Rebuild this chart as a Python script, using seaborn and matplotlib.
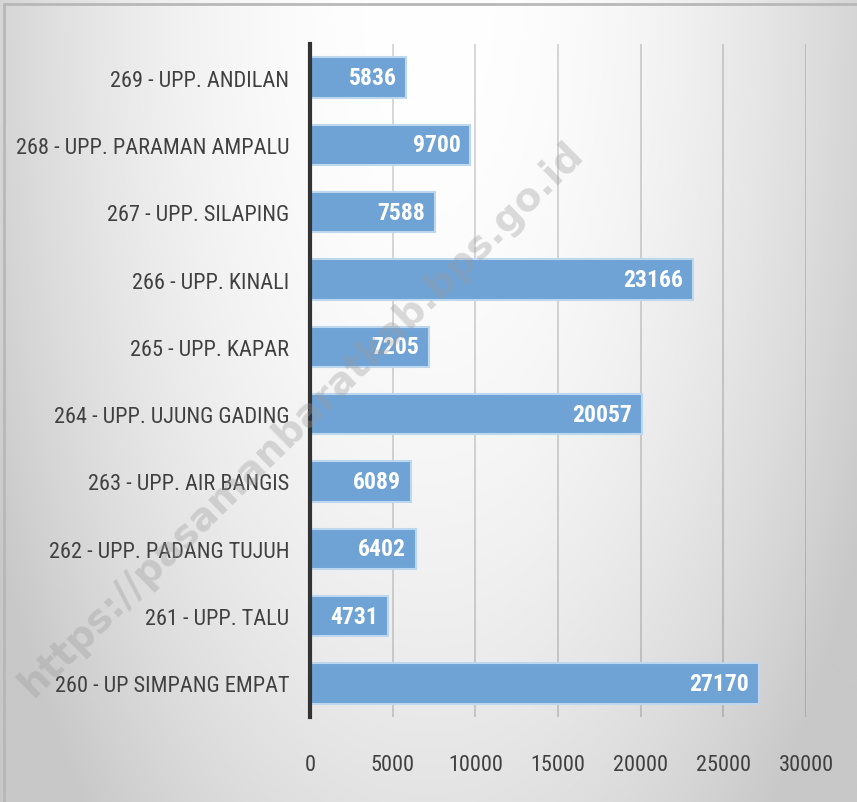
import numpy as np
import pandas as pd
import matplotlib
matplotlib.use('Agg')
import matplotlib.pyplot as plt
import seaborn as sns
from matplotlib import font_manager

kategori = [
    '269 - UPP. ANDILAN',
    '268 - UPP. PARAMAN AMPALU',
    '267 - UPP. SILAPING',
    '266 - UPP. KINALI',
    '265 - UPP. KAPAR',
    '264 - UPP. UJUNG GADING',
    '263 - UPP. AIR BANGIS',
    '262 - UPP. PADANG TUJUH',
    '261 - UPP. TALU',
    '260 - UP SIMPANG EMPAT',
]
nilai = [5836, 9700, 7588, 23166, 7205, 20057, 6089, 6402, 4731, 27170]
x_ticks = [0, 5000, 10000, 15000, 20000, 25000, 30000]

df = pd.DataFrame({'kategori': kategori, 'nilai': nilai})

sns.set_style('white')

# cari font sempit (mirip Calibri) kalau ada
def cari_font(bold=False):
    kandidat = ['LiberationSansNarrow', 'RobotoCondensed', 'DejaVuSansCondensed', 'OpenSansCondensed']
    for k in kandidat:
        for f in font_manager.fontManager.ttflist:
            nama = f.fname.replace('-', '').replace('_', '').replace(' ', '')
            if k.lower() in nama.lower():
                tebal = 'bold' in nama.lower()
                if tebal == bold and 'italic' not in nama.lower() and 'oblique' not in nama.lower():
                    return font_manager.FontProperties(fname=f.fname)
    return None

fp_reg = cari_font(False)
fp_bold = cari_font(True)
narrow = fp_reg is not None
if fp_reg is None:
    fp_reg = font_manager.FontProperties(family='Roboto')
if fp_bold is None:
    fp_bold = font_manager.FontProperties(family=fp_reg.get_family(), weight='bold')
ukuran = 16 if narrow else 14

fig = plt.figure(figsize=(8.57, 8.03), dpi=100)

# latar gradien abu-abu
bg = fig.add_axes([0, 0, 1, 1], zorder=-10)
yy, xx = np.mgrid[0:1:400j, 0:1:400j]
d = np.sqrt(((xx - 0.5) / 0.55) ** 2 + (yy / 1.35) ** 2)
v = np.clip(255 - 50 * d ** 2, 200, 255) / 255
bg.imshow(np.dstack([v, v, v]), extent=[0, 1, 0, 1], origin='upper', aspect='auto')
bg.plot([0.005, 0.005], [0, 0.994], color='#b8b8b8', lw=2)
bg.plot([0.005, 1], [0.994, 0.994], color='#b8b8b8', lw=2)
bg.set_xlim(0, 1)
bg.set_ylim(0, 1)
bg.axis('off')

ax = fig.add_axes([0.3617, 0.1059, 0.5788, 0.8381])
ax.patch.set_alpha(0)

sns.barplot(
    data=df,
    x='nilai',
    y='kategori',
    orient='h',
    color='#6fa3d6',
    edgecolor='#bdd7ee',
    linewidth=1.5,
    width=0.6,
    saturation=1,
    ax=ax,
    zorder=3,
)

ax.set_xlim(0, 30000)
ax.set_ylim(9.5, -0.5)
ax.set_xticks(x_ticks)
ax.set_xticklabels([str(t) for t in x_ticks])
ax.tick_params(axis='x', length=0, pad=27)
ax.tick_params(axis='y', length=0, pad=15)
for lbl in ax.get_xticklabels() + ax.get_yticklabels():
    lbl.set_fontproperties(fp_reg)
    lbl.set_fontsize(ukuran)
    lbl.set_color('#404040')
ax.set_xlabel('')
ax.set_ylabel('')
ax.grid(axis='x', color='black', alpha=0.18, lw=1.2, zorder=0)
for s in ['top', 'right', 'bottom']:
    ax.spines[s].set_visible(False)
ax.spines['left'].set_color('#333333')
ax.spines['left'].set_linewidth(3)
ax.spines['left'].set_zorder(5)

for i, val in enumerate(nilai):
    ax.text(val - 600, i, str(val), ha='right', va='center',
            color='white', fontproperties=fp_bold, fontsize=ukuran + 1, zorder=6)

# watermark
fig.text(0.352, 0.478, 'https://pasamanbaratkab.bps.go.id', rotation=44.5,
         ha='center', va='center', fontsize=28, fontweight='bold',
         family=['DejaVu Sans'], color='#9a9a9a', alpha=0.35, zorder=20)

fig.savefig('out.png', dpi=100)
